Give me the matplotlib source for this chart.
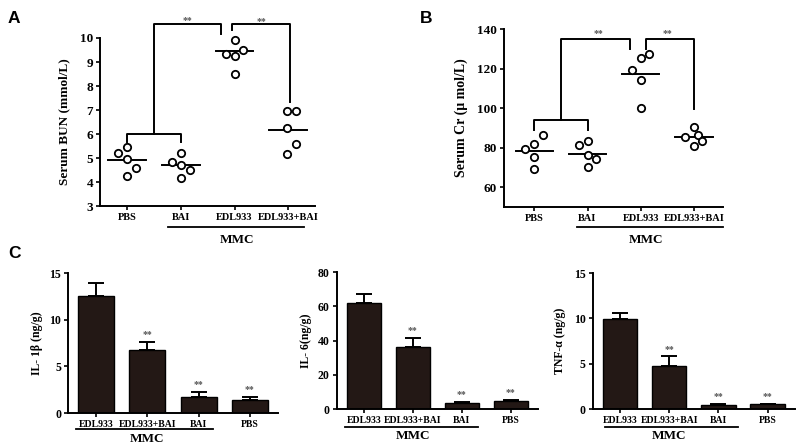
import matplotlib.pyplot as plt
import matplotlib.transforms as mtransforms

plt.rcParams['font.family'] = ['Liberation Serif', 'DejaVu Serif']
plt.rcParams['font.weight'] = 'bold'

# ==== data ====
groups_top = ['PBS', 'BAI', 'EDL933', 'EDL933+BAI']
bun_pts = [[5.22, 5.44, 4.94, 4.59, 4.26],
           [4.84, 5.22, 4.70, 4.49, 4.15],
           [9.32, 9.90, 9.24, 9.51, 8.49],
           [6.95, 6.95, 6.26, 5.58, 5.16]]
bun_line = [4.9, 4.7, 9.47, 6.17]
cr_pts = [[79.1, 82.1, 86.3, 75.4, 69.0],
          [81.1, 83.3, 76.5, 74.3, 70.1],
          [119.5, 125.4, 127.5, 114.1, 100.1],
          [85.3, 90.3, 86.6, 83.3, 80.7]]
cr_line = [78.2, 77.0, 117.4, 85.3]

groups_bot = ['EDL933', 'EDL933+BAI', 'BAI', 'PBS']
il1b = [12.6, 6.8, 1.7, 1.45]
il1b_err = [1.3, 0.8, 0.55, 0.25]
il6 = [62.0, 36.5, 3.5, 4.6]
il6_err = [5.5, 5.3, 0.5, 0.6]
tnf = [9.95, 4.7, 0.45, 0.5]
tnf_err = [0.7, 1.1, 0.1, 0.1]
stars_bot = ['', '**', '**', '**']

# jitter pattern for the dot plots (x offsets)
jit_a = [[-0.17, 0.0, 0.0, 0.16, 0.0], [-0.16, 0.0, 0.0, 0.17, 0.0],
         [-0.15, 0.0, 0.0, 0.16, 0.0], [-0.03, 0.15, -0.02, 0.15, -0.02]]
jit_b = [[-0.17, 0.0, 0.16, 0.0, 0.0], [-0.16, 0.0, 0.0, 0.16, 0.0],
         [-0.16, 0.0, 0.16, 0.0, 0.0], [-0.16, 0.0, 0.08, 0.16, 0.0]]

fig = plt.figure(figsize=(8, 4.47), dpi=100)


def style_axes(ax, xsize, ysize):
    for s in ['top', 'right']:
        ax.spines[s].set_visible(False)
    for s in ['left', 'bottom']:
        ax.spines[s].set_linewidth(1.4)
    ax.tick_params(axis='both', direction='out', width=1.2, length=3, pad=2)
    ax.tick_params(axis='x', labelsize=xsize)
    ax.tick_params(axis='y', labelsize=ysize)


def mmc(ax, x0, x1, yline, ytext, xt):
    tr = mtransforms.blended_transform_factory(ax.transData, ax.transAxes)
    ax.plot([x0, x1], [yline, yline], color='black', lw=1.3, transform=tr, clip_on=False)
    ax.text(xt, ytext, 'MMC', transform=tr, ha='center', va='center', fontsize=9.5,
            fontweight='bold')


def bracket(ax, xs, ys):
    ax.plot(xs, ys, color='black', lw=1.4, clip_on=False)


def dots(ax, pts, jit, line):
    for i, vals in enumerate(pts):
        xs = [i + j for j in jit[i]]
        ax.scatter(xs, vals, s=28, facecolors='white', edgecolors='black',
                   linewidths=1.3, zorder=3, clip_on=False)
        ax.plot([i - 0.35, i + 0.35], [line[i], line[i]], color='black', lw=1.4, zorder=2)


# ==== panel A ====
axA = fig.add_axes([0.125, 0.539, 0.269, 0.376])
dots(axA, bun_pts, jit_a, bun_line)
axA.set_xlim(-0.5, 3.5)
axA.set_ylim(3, 10)
axA.set_yticks(range(3, 11))
axA.set_xticks(range(4))
axA.set_xticklabels(groups_top)
style_axes(axA, 7.5, 9.5)
axA.set_ylabel('Serum BUN (mmol/L)', fontsize=9.5, fontweight='bold')
axA.yaxis.set_label_coords(-0.14, 0.5)
bracket(axA, [0, 0, 1, 1], [5.68, 6.0, 6.0, 5.68])
bracket(axA, [0.5, 0.5, 1.75, 1.75], [6.0, 10.6, 10.6, 10.18])
bracket(axA, [1.95, 1.95, 3.03, 3.03], [10.32, 10.57, 10.57, 7.34])
axA.text(1.12, 10.72, '**', ha='center', va='center', fontsize=7, color='#555555')
axA.text(2.5, 10.7, '**', ha='center', va='center', fontsize=7, color='#555555')
mmc(axA, 0.76, 3.3, -0.125, -0.2, 2.05)

# ==== panel B ====
axB = fig.add_axes([0.63, 0.537, 0.274, 0.398])
dots(axB, cr_pts, jit_b, cr_line)
axB.set_xlim(-0.57, 3.55)
axB.set_ylim(50, 140)
axB.set_yticks(range(60, 141, 20))
axB.set_xticks(range(4))
axB.set_xticklabels(groups_top)
style_axes(axB, 7.5, 9.5)
axB.set_ylabel('Serum Cr (μ mol/L)', fontsize=10, fontweight='bold')
axB.yaxis.set_label_coords(-0.165, 0.5)
bracket(axB, [0, 0, 1, 1], [88.8, 94.2, 94.2, 88.8])
bracket(axB, [0.5, 0.5, 1.8, 1.8], [94.2, 135.1, 135.1, 129.9])
bracket(axB, [2.1, 2.1, 3.0, 3.0], [129.9, 135.1, 135.1, 99.8])
axB.text(1.2, 137.5, '**', ha='center', va='center', fontsize=7, color='#555555')
axB.text(2.5, 137.5, '**', ha='center', va='center', fontsize=7, color='#555555')
mmc(axB, 0.8, 3.55, -0.112, -0.185, 2.1)

# ==== panel C ====
bar_color = '#231815'
c_specs = [
    ([0.085, 0.076, 0.2625, 0.313], il1b, il1b_err, (0, 15), [0, 5, 10, 15], 'IL- 1β (ng/g)', -0.12,
     (-0.39, 2.28), (-0.114, -0.186)),
    ([0.421, 0.085, 0.251, 0.306], il6, il6_err, (0, 80), [0, 20, 40, 60, 80], 'IL- 6(ng/g)', -0.125,
     (-0.38, 2.33), (-0.13, -0.2)),
    ([0.741, 0.085, 0.2525, 0.304], tnf, tnf_err, (0, 15), [0, 5, 10, 15], 'TNF-α (ng/g)', -0.135,
     (-0.3, 2.4), (-0.135, -0.2)),
]
for rect, vals, errs, ylim, yt, ylab, lx, (m0, m1), (my0, my1) in c_specs:
    ax = fig.add_axes(rect)
    x = list(range(len(vals)))
    ax.bar(x, vals, width=0.7, color=bar_color, edgecolor='black', linewidth=1.0, zorder=2)
    ax.errorbar(x, vals, yerr=[[0] * len(errs), errs], fmt='none', ecolor='black',
                elinewidth=1.4, capsize=6, capthick=1.4, zorder=1)
    top = ylim[1]
    for i, st in enumerate(stars_bot):
        if st:
            ax.text(i, vals[i] + errs[i] + top * 0.02, st, ha='center', va='bottom',
                    fontsize=7, color='#555555')
    ax.set_xlim(-0.55, 3.55)
    ax.set_ylim(*ylim)
    ax.set_yticks(yt)
    ax.set_xticks(x)
    ax.set_xticklabels(groups_bot)
    style_axes(ax, 7, 8.5)
    ax.set_ylabel(ylab, fontsize=8.5, fontweight='bold')
    ax.yaxis.set_label_coords(lx, 0.5)
    mmc(ax, m0, m1, my0, my1, 1.0)

# ==== panel letters ====
for lx, ly, letter in [(0.01, 0.975, 'A'), (0.525, 0.975, 'B'), (0.01, 0.45, 'C')]:
    fig.text(lx, ly, letter, fontsize=12.5, fontweight='bold', family='Liberation Sans',
             ha='left', va='top')

fig.savefig('out.png', dpi=100)
